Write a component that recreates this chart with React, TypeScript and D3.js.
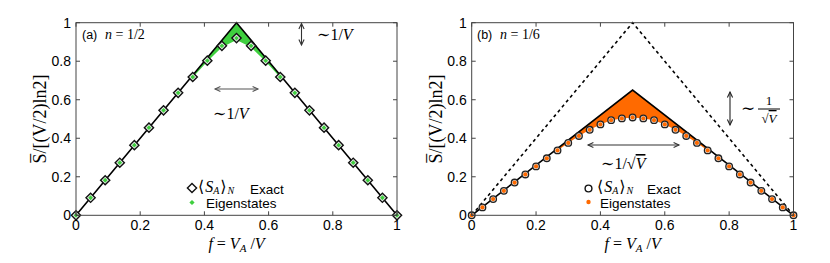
import React from 'react';
import * as d3 from 'd3';

// panel (a): n = 1/2, V = 22 sites
const sitesA = 22;
const exactA = [0, 0.091, 0.182, 0.273, 0.364, 0.455, 0.545, 0.636, 0.718, 0.803, 0.88, 0.92,
  0.88, 0.803, 0.718, 0.636, 0.545, 0.455, 0.364, 0.273, 0.182, 0.091, 0];
const eigenA = [0, 0.091, 0.182, 0.273, 0.364, 0.455, 0.545, 0.636, 0.716, 0.798, 0.872, 0.91,
  0.872, 0.798, 0.716, 0.636, 0.545, 0.455, 0.364, 0.273, 0.182, 0.091, 0];

// panel (b): n = 1/6, V = 30 sites
const sitesB = 30;
const exactB = [0, 0.041, 0.084, 0.127, 0.17, 0.212, 0.254, 0.296, 0.337, 0.376, 0.412, 0.444,
  0.472, 0.494, 0.503, 0.508, 0.503, 0.494, 0.472, 0.444, 0.412, 0.376, 0.337, 0.296, 0.254,
  0.212, 0.17, 0.127, 0.084, 0.041, 0];
const eigenB = exactB;

// theory curves (cusp triangles)
const theoryF = [0, 0.5, 1];
const theoryA = [0, 1, 0];
const theoryB = [0, 0.65, 0];
const maxEntB = [0, 1, 0];

const ticks = [0, 0.2, 0.4, 0.6, 0.8, 1];
const tickLabels = ['0', '0.2', '0.4', '0.6', '0.8', '1'];

const GREEN = '#3fcf3f';
const ORANGE = '#ff6a00';
const SERIF = '"Liberation Serif", "DejaVu Serif", serif';
const SANS = '"Liberation Sans", Arial, sans-serif';

const top = 22.7;
const bottom = 215.3;

function Arrow({ x1, y1, x2, y2, color = '#333' }) {
  const a = Math.atan2(y2 - y1, x2 - x1);
  const h = 6;
  const sp = 0.45;
  const head = (x, y, ang) =>
    `M${x - h * Math.cos(ang - sp)},${y - h * Math.sin(ang - sp)}L${x},${y}L${x - h * Math.cos(ang + sp)},${y - h * Math.sin(ang + sp)}`;
  return (
    <g fill="none" stroke={color} strokeWidth={1.1}>
      <line x1={x1} y1={y1} x2={x2} y2={y2} />
      <path d={head(x2, y2, a)} />
      <path d={head(x1, y1, a + Math.PI)} />
    </g>
  );
}

function Frame({ x, y }) {
  const [x0, x1] = x.range();
  const [y0, y1] = y.range();
  const tl = 4;
  return (
    <g>
      <rect x={x0} y={y1} width={x1 - x0} height={y0 - y1} fill="none" stroke="#444" strokeWidth={1} />
      {ticks.map((t, i) => (
        <g key={'t' + i} stroke="#444" strokeWidth={1}>
          <line x1={x(t)} x2={x(t)} y1={y0} y2={y0 - tl} />
          <line x1={x(t)} x2={x(t)} y1={y1} y2={y1 + tl} />
          <line x1={x0} x2={x0 + tl} y1={y(t)} y2={y(t)} />
          <line x1={x1} x2={x1 - tl} y1={y(t)} y2={y(t)} />
        </g>
      ))}
      {ticks.map((t, i) => (
        <text key={'xl' + i} x={x(t)} y={230} textAnchor="middle" fontFamily={SANS} fontSize={14}>{tickLabels[i]}</text>
      ))}
      {ticks.map((t, i) => (
        <text key={'yl' + i} x={x0 - 5} y={y(t) + 5} textAnchor="end" fontFamily={SANS} fontSize={14}>{tickLabels[i]}</text>
      ))}
      <text transform={`translate(${x0 - 30},${(y0 + y1) / 2}) rotate(-90)`} textAnchor="middle" fontFamily={SERIF} fontSize={18}>
        {'S\u0305/[(V/2)ln2]'}
      </text>
      <text x={(x0 + x1) / 2} y={249} textAnchor="middle" fontFamily={SERIF} fontSize={16}>
        <tspan fontStyle="italic">f</tspan>
        <tspan>{' = '}</tspan>
        <tspan fontStyle="italic">V</tspan>
        <tspan fontStyle="italic" fontSize={11} dy={3}>A</tspan>
        <tspan dy={-3}>{' /'}</tspan>
        <tspan fontStyle="italic">V</tspan>
      </text>
    </g>
  );
}

function SA({ x, y }) {
  return (
    <text x={x} y={y} fontFamily={SERIF} fontSize={16}>
      <tspan>⟨</tspan>
      <tspan fontStyle="italic" dx={1}>S</tspan>
      <tspan fontStyle="italic" fontSize={10} dy={2}>A</tspan>
      <tspan dy={-2} dx={1}>⟩</tspan>
      <tspan fontStyle="italic" fontSize={10} dy={2} dx={1}>N</tspan>
    </text>
  );
}

export default function App() {
  const yA = d3.scaleLinear().domain([0, 1]).range([bottom, top]);
  const xA = d3.scaleLinear().domain([0, 1]).range([76, 397]);
  const xB = d3.scaleLinear().domain([0, 1]).range([471.7, 793.5]);
  const yB = yA;

  const lineTheoryA = d3.line().x((d, i) => xA(theoryF[i])).y((d) => yA(d));
  const lineTheoryB = d3.line().x((d, i) => xB(theoryF[i])).y((d) => yB(d));

  const upperA = d3.scaleLinear().domain(theoryF).range(theoryA);
  const upperB = d3.scaleLinear().domain(theoryF).range(theoryB);

  const fillIdxA = d3.range(8, sitesA - 7);
  const fillIdxB = d3.range(8, sitesB - 7);

  const areaA = d3.area()
    .x((k) => xA(k / sitesA))
    .y0((k) => yA(eigenA[k]))
    .y1((k) => yA(upperA(k / sitesA)));
  const areaB = d3.area()
    .x((k) => xB(k / sitesB))
    .y0((k) => yB(eigenB[k]))
    .y1((k) => yB(upperB(k / sitesB)));

  const diamond = (cx, cy, r) => `M${cx},${cy - r}L${cx + r},${cy}L${cx},${cy + r}L${cx - r},${cy}Z`;

  return (
    <svg width={830} height={263} style={{ position: 'absolute', left: 0, top: 0, background: '#fff' }}>
      {/* ---------- panel (a) ---------- */}
      <path d={areaA(fillIdxA)} fill={GREEN} />
      <path d={lineTheoryA(theoryA)} fill="none" stroke="#000" strokeWidth={1.6} />
      {exactA.map((v, k) => (
        <path key={'da' + k} d={diamond(xA(k / sitesA), yA(v), 4.6)} fill="#eee" stroke="#111" strokeWidth={1.4} />
      ))}
      {eigenA.map((v, k) => (
        <path key={'ga' + k} d={diamond(xA(k / sitesA), yA(exactA[k]), 2.4)} fill={GREEN} stroke="none" />
      ))}
      <Frame x={xA} y={yA} />
      <text x={82} y={39} fontFamily={SANS} fontSize={12.5}>(a)</text>
      <text x={105} y={39} fontFamily={SERIF} fontSize={14}>
        <tspan fontStyle="italic">n</tspan>
        <tspan>{' = 1/2'}</tspan>
      </text>
      <Arrow x1={215} y1={89} x2={258} y2={89} color="#555" />
      <text x={213} y={119} fontFamily={SERIF} fontSize={16}>
        <tspan>∼1/</tspan><tspan fontStyle="italic">V</tspan>
      </text>
      <Arrow x1={301.5} y1={23.5} x2={301.5} y2={45} color="#333" />
      <text x={317} y={40} fontFamily={SERIF} fontSize={16}>
        <tspan>∼1/</tspan><tspan fontStyle="italic">V</tspan>
      </text>
      <path d={diamond(192, 188, 4.6)} fill="#fff" stroke="#111" strokeWidth={1.4} />
      <SA x={198} y={192} />
      <text x={250} y={193.5} fontFamily={SANS} fontSize={13.5}>Exact</text>
      <path d={diamond(192, 202.5, 2.6)} fill={GREEN} />
      <text x={206} y={208} fontFamily={SANS} fontSize={13.5}>Eigenstates</text>

      {/* ---------- panel (b) ---------- */}
      <path d={areaB(fillIdxB)} fill={ORANGE} />
      <path d={lineTheoryB(maxEntB)} fill="none" stroke="#000" strokeWidth={1.6} strokeDasharray="3.2,3.2" />
      <path d={lineTheoryB(theoryB)} fill="none" stroke="#000" strokeWidth={1.6} />
      {exactB.map((v, k) => (
        <circle key={'cb' + k} cx={xB(k / sitesB)} cy={yB(v)} r={3.3} fill="#ddd" stroke="#222" strokeWidth={1.3} />
      ))}
      {eigenB.map((v, k) => (
        <circle key={'ob' + k} cx={xB(k / sitesB)} cy={yB(v)} r={2.1} fill={ORANGE} />
      ))}
      <Frame x={xB} y={yB} />
      <text x={477} y={39} fontFamily={SANS} fontSize={12.5}>(b)</text>
      <text x={500} y={39} fontFamily={SERIF} fontSize={14}>
        <tspan fontStyle="italic">n</tspan>
        <tspan>{' = 1/6'}</tspan>
      </text>
      <Arrow x1={588} y1={145} x2={679} y2={145} color="#333" />
      <text x={601} y={169} fontFamily={SERIF} fontSize={16}>
        <tspan>∼1/√</tspan><tspan fontStyle="italic" textDecoration="overline">V</tspan>
      </text>
      <Arrow x1={730} y1={92} x2={730} y2={125} color="#222" />
      <text x={741} y={114} fontFamily={SERIF} fontSize={17}>∼</text>
      <text x={769} y={105} textAnchor="middle" fontFamily={SERIF} fontSize={13}>1</text>
      <line x1={758} x2={780} y1={109} y2={109} stroke="#000" strokeWidth={1} />
      <text x={769} y={123} textAnchor="middle" fontFamily={SERIF} fontSize={13}>
        <tspan>√</tspan><tspan fontStyle="italic" textDecoration="overline">V</tspan>
      </text>
      <circle cx={588.5} cy={188.5} r={3.4} fill="#fff" stroke="#111" strokeWidth={1.4} />
      <SA x={597} y={192} />
      <text x={647} y={193.5} fontFamily={SANS} fontSize={13.5}>Exact</text>
      <circle cx={588.5} cy={202} r={2.2} fill={ORANGE} />
      <text x={600} y={208} fontFamily={SANS} fontSize={13.5}>Eigenstates</text>
    </svg>
  );
}
